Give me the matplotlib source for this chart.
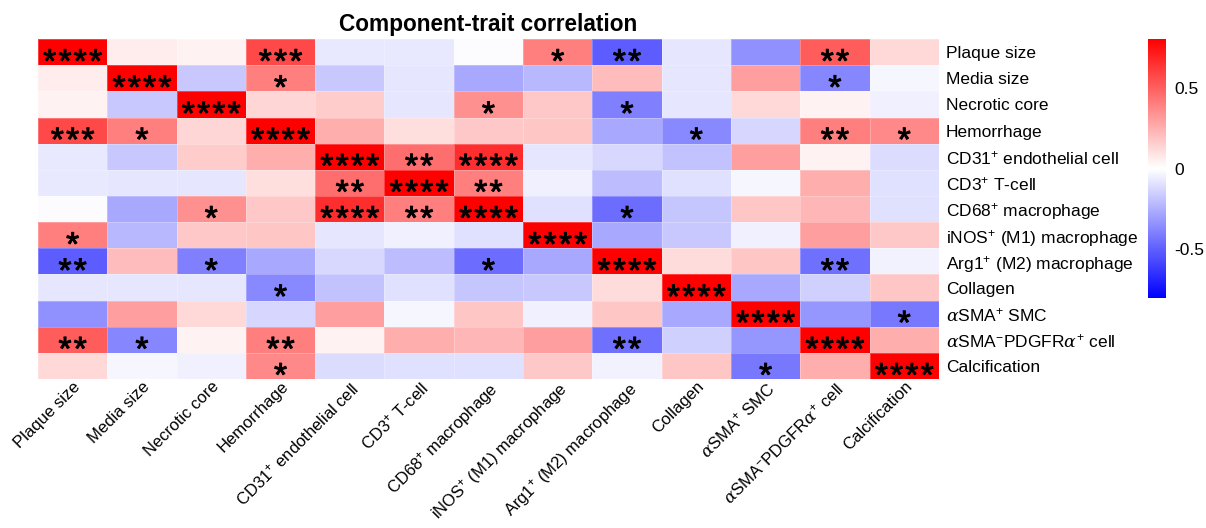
import numpy as np
import matplotlib
matplotlib.use("Agg")
import matplotlib.pyplot as plt
import matplotlib.patheffects as pe
from matplotlib.colors import LinearSegmentedColormap

plt.rcParams['font.family'] = ['Liberation Sans', 'DejaVu Sans']
plt.rcParams['mathtext.fontset'] = 'custom'
plt.rcParams['mathtext.rm'] = 'Liberation Sans'
plt.rcParams['mathtext.it'] = 'DejaVu Serif:italic'

labels = [
    "Plaque size", "Media size", "Necrotic core", "Hemorrhage",
    r"CD31$^{+}$ endothelial cell", r"CD3$^{+}$ T-cell", r"CD68$^{+}$ macrophage",
    r"iNOS$^{+}$ (M1) macrophage", r"Arg1$^{+}$ (M2) macrophage", "Collagen",
    r"$\alpha$SMA$^{+}$ SMC", r"$\alpha$SMA$^{-}$PDGFR$\alpha^{+}$ cell", "Calcification",
]

corr = [
    [1.00, 0.06, 0.04, 0.57, -0.07, -0.07, -0.01, 0.40, -0.51, -0.08, -0.35, 0.51, 0.12],
    [0.06, 1.00, -0.17, 0.40, -0.17, -0.08, -0.27, -0.22, 0.21, -0.08, 0.30, -0.38, -0.03],
    [0.04, -0.17, 1.00, 0.13, 0.16, -0.08, 0.35, 0.17, -0.40, -0.08, 0.12, 0.04, -0.05],
    [0.57, 0.40, 0.13, 1.00, 0.25, 0.10, 0.17, 0.18, -0.27, -0.37, -0.13, 0.40, 0.37],
    [-0.07, -0.17, 0.16, 0.25, 1.00, 0.45, 0.65, -0.08, -0.12, -0.19, 0.30, 0.04, -0.11],
    [-0.07, -0.08, -0.08, 0.10, 0.45, 1.00, 0.40, -0.05, -0.21, -0.10, -0.03, 0.25, -0.10],
    [-0.01, -0.27, 0.35, 0.17, 0.65, 0.40, 1.00, -0.10, -0.46, -0.18, 0.18, 0.23, -0.10],
    [0.40, -0.22, 0.17, 0.18, -0.08, -0.05, -0.10, 1.00, -0.27, -0.17, -0.05, 0.30, 0.17],
    [-0.51, 0.21, -0.40, -0.27, -0.12, -0.21, -0.46, -0.27, 1.00, 0.11, 0.18, -0.45, -0.04],
    [-0.08, -0.08, -0.08, -0.37, -0.19, -0.10, -0.18, -0.17, 0.11, 1.00, -0.27, -0.15, 0.18],
    [-0.35, 0.30, 0.12, -0.13, 0.30, -0.03, 0.18, -0.05, 0.18, -0.27, 1.00, -0.33, -0.42],
    [0.51, -0.38, 0.04, 0.40, 0.04, 0.25, 0.23, 0.30, -0.45, -0.15, -0.33, 1.00, 0.25],
    [0.12, -0.03, -0.05, 0.37, -0.11, -0.10, -0.10, 0.17, -0.04, 0.18, -0.42, 0.25, 1.00],
]

stars = [
    [4, 0, 0, 3, 0, 0, 0, 1, 2, 0, 0, 2, 0],
    [0, 4, 0, 1, 0, 0, 0, 0, 0, 0, 0, 1, 0],
    [0, 0, 4, 0, 0, 0, 1, 0, 1, 0, 0, 0, 0],
    [3, 1, 0, 4, 0, 0, 0, 0, 0, 1, 0, 2, 1],
    [0, 0, 0, 0, 4, 2, 4, 0, 0, 0, 0, 0, 0],
    [0, 0, 0, 0, 2, 4, 2, 0, 0, 0, 0, 0, 0],
    [0, 0, 1, 0, 4, 2, 4, 0, 1, 0, 0, 0, 0],
    [1, 0, 0, 0, 0, 0, 0, 4, 0, 0, 0, 0, 0],
    [2, 0, 1, 0, 0, 0, 1, 0, 4, 0, 0, 2, 0],
    [0, 0, 0, 1, 0, 0, 0, 0, 0, 4, 0, 0, 0],
    [0, 0, 0, 0, 0, 0, 0, 0, 0, 0, 4, 0, 1],
    [2, 1, 0, 2, 0, 0, 0, 0, 2, 0, 0, 4, 0],
    [0, 0, 0, 1, 0, 0, 0, 0, 0, 0, 1, 0, 4],
]

cbar_ticks = [-0.5, 0, 0.5]

data = np.array(corr)
n = len(labels)
cmap = LinearSegmentedColormap.from_list("bwr2", ["#0000FF", "#FFFFFF", "#FF0000"])

fig = plt.figure(figsize=(12.06, 5.28), dpi=100)
ax = fig.add_axes([0.0315, 0.282, 0.747, 0.644])
mesh = ax.pcolormesh(np.arange(n + 1), np.arange(n + 1), data, cmap=cmap,
                     vmin=-0.8, vmax=0.8, edgecolor=(1, 1, 1, 0.25), linewidth=0.4)
ax.set_xlim(0, n)
ax.set_ylim(n, 0)
for s in ax.spines.values():
    s.set_visible(False)

fs_star = 24
spacing = 11.0  # points between star centres
for i in range(n):
    for j in range(n):
        k = stars[i][j]
        for m in range(k):
            dx = (m - (k - 1) / 2) * spacing
            ax.annotate("*", xy=(j + 0.5, i + 0.5), xytext=(dx, -0.60 * fs_star),
                        textcoords='offset points', ha='center', va='baseline',
                        fontsize=fs_star, family='Liberation Sans', color='black',
                        path_effects=[pe.withStroke(linewidth=0.7, foreground='black')])

ax.set_xticks(np.arange(n) + 0.5)
ax.set_xticklabels(labels, rotation=45, ha='right', va='top', rotation_mode='anchor', fontsize=12)
ax.set_yticks(np.arange(n) + 0.5)
ax.set_yticklabels(labels, fontsize=12.5)
ax.yaxis.tick_right()
ax.tick_params(length=0, pad=5)
ax.tick_params(axis='x', pad=0)

ax.set_title("Component-trait correlation", fontsize=16.3, fontweight='bold', pad=6)

cax = fig.add_axes([0.952, 0.4356, 0.0149, 0.4905])
cb = fig.colorbar(mesh, cax=cax, ticks=cbar_ticks)
cb.outline.set_visible(False)
cb.ax.set_yticklabels(["-0.5", "0", "0.5"])
cb.ax.tick_params(length=0, labelsize=12.5, pad=6)

fig.savefig("out.png", dpi=100)
